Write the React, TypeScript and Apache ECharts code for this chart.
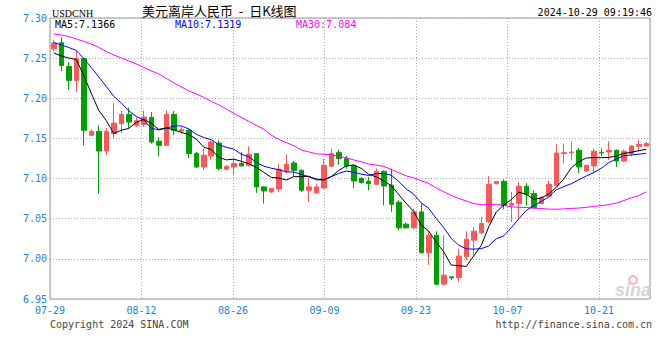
import React, { useEffect, useRef } from 'react';
import * as echarts from 'echarts';

const categories = [
  '07-29','07-30','07-31','08-01','08-02','08-03',
  '08-05','08-06','08-07','08-08','08-09','08-10',
  '08-12','08-13','08-14','08-15','08-16','08-17',
  '08-19','08-20','08-21','08-22','08-23','08-24',
  '08-26','08-27','08-28','08-29','08-30','08-31',
  '09-02','09-03','09-04','09-05','09-06','09-07',
  '09-09','09-10','09-11','09-12','09-13','09-14',
  '09-16','09-17','09-18','09-19','09-20','09-21',
  '09-23','09-24','09-25','09-26','09-27','09-28',
  '09-30','10-01','10-02','10-03','10-04','10-05',
  '10-07','10-08','10-09','10-10','10-11','10-12',
  '10-14','10-15','10-16','10-17','10-18','10-19',
  '10-21','10-22','10-23','10-24','10-25','10-26',
  '10-28','10-29',
];

const opens = [
  7.2617, 7.2692, 7.2397, 7.2223, 7.2493, 7.1539, 7.1588, 7.1343, 7.1560, 7.1684,
  7.1800, 7.1663, 7.1675, 7.1762, 7.1466, 7.1414, 7.1800, 7.1592, 7.1601, 7.1311,
  7.1144, 7.1281, 7.1443, 7.1116, 7.1144, 7.1187, 7.1165, 7.1311, 7.0896, 7.0833,
  7.0871, 7.1095, 7.1194, 7.1103, 7.0854, 7.0821, 7.0883, 7.1153, 7.1323, 7.1249,
  7.1157, 7.1000, 7.0966, 7.0929, 7.1091, 7.0917, 7.0705, 7.0432, 7.0388, 7.0585,
  7.0075, 7.0295, 6.9685, 6.9776, 6.9766, 7.0025, 7.0233, 7.0323, 7.0463, 7.0935,
  7.0966, 7.0668, 7.0689, 7.0904, 7.0813, 7.0689, 7.0780, 7.0917, 7.1311, 7.1323,
  7.1352, 7.1095, 7.1157, 7.1327, 7.1331, 7.1352, 7.1219, 7.1311, 7.1402, 7.1405,
];

const closes = [
  7.2687, 7.2409, 7.2223, 7.2493, 7.1601, 7.1588, 7.1343, 7.1585, 7.1692, 7.1800,
  7.1704, 7.1721, 7.1766, 7.1455, 7.1414, 7.1800, 7.1601, 7.1609, 7.1311, 7.1144,
  7.1290, 7.1455, 7.1124, 7.1153, 7.1187, 7.1157, 7.1302, 7.0896, 7.0846, 7.0876,
  7.1116, 7.1178, 7.1103, 7.0854, 7.0896, 7.0896, 7.1165, 7.1311, 7.1249, 7.1157,
  7.0970, 7.0950, 7.0938, 7.1091, 7.0908, 7.0680, 7.0386, 7.0386, 7.0585, 7.0075,
  7.0295, 6.9685, 6.9797, 6.9764, 7.0034, 7.0245, 7.0345, 7.0440, 7.0929, 7.0963,
  7.0668, 7.0689, 7.0904, 7.0799, 7.0639, 7.0764, 7.0929, 7.1318, 7.1323, 7.1331,
  7.1144, 7.1165, 7.1340, 7.1321, 7.1352, 7.1219, 7.1340, 7.1405, 7.1423, 7.1435,
];

const lows = [
  7.2587, 7.2338, 7.2107, 7.2077, 7.1414, 7.1539, 7.0813, 7.1290, 7.1505, 7.1563,
  7.1632, 7.1642, 7.1642, 7.1435, 7.1277, 7.1402, 7.1539, 7.1560, 7.1256, 7.1132,
  7.1103, 7.1228, 7.1103, 7.1103, 7.1041, 7.1153, 7.1153, 7.0821, 7.0689, 7.0821,
  7.0833, 7.1062, 7.1029, 7.0833, 7.0709, 7.0813, 7.0876, 7.1144, 7.1174, 7.1124,
  7.0883, 7.0938, 7.0854, 7.0917, 7.0668, 7.0585, 7.0357, 7.0378, 7.0366, 7.0067,
  6.9925, 6.9673, 6.9667, 6.9735, 6.9714, 6.9984, 7.0046, 7.0307, 7.0444, 7.0929,
  7.0618, 7.0460, 7.0494, 7.0662, 7.0627, 7.0680, 7.0771, 7.0896, 7.1187, 7.1228,
  7.1070, 7.1091, 7.1062, 7.1277, 7.1228, 7.1144, 7.1206, 7.1277, 7.1331, 7.1402,
];

const highs = [
  7.2729, 7.2761, 7.2450, 7.2587, 7.2505, 7.1613, 7.1663, 7.1629, 7.1945, 7.1841,
  7.1883, 7.1759, 7.1850, 7.1828, 7.1517, 7.1850, 7.1841, 7.1642, 7.1617, 7.1331,
  7.1373, 7.1476, 7.1476, 7.1165, 7.1249, 7.1331, 7.1402, 7.1318, 7.0904, 7.0883,
  7.1178, 7.1302, 7.1219, 7.1112, 7.1012, 7.0938, 7.1249, 7.1373, 7.1361, 7.1281,
  7.1178, 7.1020, 7.1020, 7.1124, 7.1103, 7.1124, 7.0730, 7.0453, 7.0627, 7.0689,
  7.0345, 7.0345, 7.0295, 6.9776, 7.0124, 7.0341, 7.0394, 7.0525, 7.1029, 7.0966,
  7.0988, 7.0833, 7.0960, 7.0942, 7.0854, 7.0780, 7.0970, 7.1427, 7.1435, 7.1464,
  7.1381, 7.1165, 7.1373, 7.1373, 7.1464, 7.1361, 7.1361, 7.1414, 7.1485, 7.1455,
];

// MA values at the left edge (earlier closes are not shown)
const ma5Lead = [7.2565, 7.2527, 7.2502, 7.2484];
const ma10Lead = [7.2695, 7.2664, 7.2633, 7.2596, 7.2496, 7.2384, 7.2266, 7.2148, 7.2024];
const ma30Lead = [
  7.2801, 7.2789, 7.2770, 7.2739, 7.2708, 7.2677, 7.2633, 7.2583, 7.2540, 7.2502,
  7.2465, 7.2428, 7.2384, 7.2341, 7.2303, 7.2248, 7.2192, 7.2142, 7.2092, 7.2055,
  7.2012, 7.1962, 7.1918, 7.1868, 7.1812, 7.1763, 7.1713, 7.1663, 7.1614,
];

const dateTickLabels = ['07-29', '08-12', '08-26', '09-09', '09-23', '10-07', '10-21'];
const dateTickStep = 12.2; // bars between date grid lines

const legendTexts = ['MA5:7.1366', 'MA10:7.1319', 'MA30:7.084'];

function movingAverage(n: number, lead: number[]): number[] {
  return closes.map((_, i) => {
    if (i < n - 1) return lead[i];
    let s = 0;
    for (let k = i - n + 1; k <= i; k++) s += closes[k];
    return +(s / n).toFixed(4);
  });
}

const RED = '#fa5858';
const GREEN = '#00a000';
const MONO = '"DejaVu Sans Mono", monospace';
const BLUE_LABEL = '#1e82d2';

export default function App() {
  const ref = useRef<HTMLDivElement>(null);
  useEffect(() => {
    if (!ref.current) return;
    const chart = echarts.init(ref.current, undefined, { renderer: 'svg' });
    const kData = opens.map((o, i) => [o, closes[i], lows[i], highs[i]]);
    const ma5 = movingAverage(5, ma5Lead);
    const ma10 = movingAverage(10, ma10Lead);
    const ma30 = movingAverage(30, ma30Lead);
    const dotted = { color: '#aaa', type: [1, 2] as any, width: 1 };
    const monoFont = '10px "DejaVu Sans Mono", monospace';

    chart.setOption({
      animation: false,
      backgroundColor: '#fff',
      grid: { left: 50, right: 10, top: 18, bottom: 61, show: true, borderColor: '#999', borderWidth: 1 },
      xAxis: [
        {
          type: 'category',
          data: categories,
          boundaryGap: true,
          axisLine: { show: false },
          axisTick: { show: false },
          axisLabel: { show: false },
          splitLine: { show: false },
        },
        {
          type: 'value',
          position: 'bottom',
          min: 0,
          max: categories.length,
          interval: dateTickStep,
          axisLine: { show: false },
          axisTick: { show: false },
          splitLine: { show: true, lineStyle: dotted },
          axisLabel: {
            show: true,
            margin: 6,
            color: BLUE_LABEL,
            fontFamily: MONO,
            fontSize: 10,
            showMinLabel: true,
            showMaxLabel: false,
            formatter: (v: number) => {
              const k = Math.round(v / dateTickStep);
              return Math.abs(v - k * dateTickStep) < 0.01 ? dateTickLabels[k] ?? '' : '';
            },
          },
        },
      ],
      yAxis: {
        type: 'value',
        min: 6.95,
        max: 7.3,
        interval: 0.05,
        axisLine: { show: false },
        axisTick: { show: false },
        splitLine: { show: true, lineStyle: dotted },
        axisLabel: {
          margin: 3,
          color: BLUE_LABEL,
          fontFamily: MONO,
          fontSize: 10,
          padding: [0, 0, 2, 0],
          formatter: (v: number) => v.toFixed(2),
        },
      },
      series: [
        {
          type: 'candlestick',
          xAxisIndex: 0,
          data: kData,
          barWidth: 5,
          itemStyle: {
            color: RED,
            color0: GREEN,
            borderColor: RED,
            borderColor0: GREEN,
            borderWidth: 1,
          },
        },
        { type: 'line', xAxisIndex: 0, data: ma30, symbol: 'none', lineStyle: { color: '#ff00ff', width: 1 }, z: 3 },
        { type: 'line', xAxisIndex: 0, data: ma10, symbol: 'none', lineStyle: { color: '#0000ff', width: 1 }, z: 3 },
        { type: 'line', xAxisIndex: 0, data: ma5, symbol: 'none', lineStyle: { color: '#000000', width: 1 }, z: 3 },
      ],
      graphic: [
        { type: 'text', left: 52, top: 8, style: { text: 'USDCNH', font: '10px "Liberation Serif", serif', fill: '#000', lineHeight: 10 } },
        { type: 'text', left: 142, top: 4, style: { text: '美元离岸人民币  -  日K线图', font: '13px "Noto Sans CJK SC", sans-serif', fill: '#000', lineHeight: 13 } },
        { type: 'text', right: 8, top: 7, style: { text: '2024-10-29 09:19:46', font: monoFont, fill: '#000', lineHeight: 10 } },
        { type: 'text', left: 55, top: 19.5, style: { text: legendTexts[0], font: monoFont, fill: '#000', lineHeight: 10 } },
        { type: 'text', left: 175, top: 19.5, style: { text: legendTexts[1], font: monoFont, fill: '#0000ff', lineHeight: 10 } },
        { type: 'text', left: 296, top: 19.5, style: { text: legendTexts[2], font: monoFont, fill: '#ff00ff', lineHeight: 10 } },
        { type: 'text', left: 50, top: 319, style: { text: 'Copyright 2024 SINA.COM', font: monoFont, fill: '#444', lineHeight: 10 } },
        { type: 'text', right: 8, top: 319, style: { text: 'http://finance.sina.com.cn', font: monoFont, fill: '#444', lineHeight: 10 } },
        { type: 'circle', shape: { cx: 633, cy: 280, r: 4 }, style: { fill: 'none', stroke: '#f0b8b8', lineWidth: 2 }, z: 1 },
        { type: 'text', left: 615, top: 281, style: { text: 'sina', font: 'italic bold 18px "Liberation Sans", sans-serif', fill: '#d4d4d4' }, z: 1 },
      ],
    });
    return () => chart.dispose();
  }, []);
  return (
    <div style={{ position: 'fixed', left: 0, top: 0, width: 660, height: 360, background: '#fff' }}>
      <div ref={ref} style={{ width: 660, height: 360 }} />
    </div>
  );
}
